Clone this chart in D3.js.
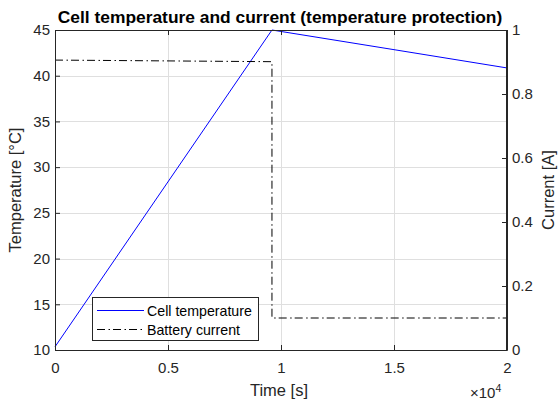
<!DOCTYPE html>
<html>
<head>
<meta charset="utf-8">
<script src="https://cdn.jsdelivr.net/npm/d3@7"></script>
<style>
  html, body { margin: 0; padding: 0; background: #fff; }
  svg { display: block; font-family: "Liberation Sans", Arial, sans-serif; }
</style>
</head>
<body>
<svg id="chart" width="560" height="405"></svg>
<script>
// ---- data ----
const tempTime = [0, 9600, 15000, 20000];
const tempValues = [10.35, 45, 42.85, 40.85];
const currentTime = [0, 9600, 9600, 20000];
const currentValues = [0.906, 0.901, 0.1, 0.1];
const xTicks = [0, 5000, 10000, 15000, 20000];
const xTickLabels = ["0", "0.5", "1", "1.5", "2"];
const yLeftTicks = [10, 15, 20, 25, 30, 35, 40, 45];
const yRightTicks = [0, 0.2, 0.4, 0.6, 0.8, 1];
const yRightTickLabels = ["0", "0.2", "0.4", "0.6", "0.8", "1"];
const legendLabels = ["Cell temperature", "Battery current"];
const titleText = "Cell temperature and current (temperature protection)";

const svg = d3.select("#chart");
const L = 55, R = 507, T = 30, B = 350;
const axisColor = "#262626";
const gridColor = "#dfdfdf";
const tickFont = "15px", labelFont = "16.5px", legendFont = "14.2px";

const x = d3.scaleLinear().domain([0, 20000]).range([L, R]);
const yL = d3.scaleLinear().domain([10, 45]).range([B, T]);
const yR = d3.scaleLinear().domain([0, 1]).range([B, T]);

// grid
const g = svg.append("g");
g.selectAll(".gx").data(xTicks.slice(1, -1)).enter().append("line")
  .attr("x1", d => Math.round(x(d)) + 0.5).attr("x2", d => Math.round(x(d)) + 0.5)
  .attr("y1", T).attr("y2", B).attr("stroke", gridColor).attr("stroke-width", 1);
g.selectAll(".gy").data(yLeftTicks.slice(1, -1)).enter().append("line")
  .attr("y1", d => Math.round(yL(d)) + 0.5).attr("y2", d => Math.round(yL(d)) + 0.5)
  .attr("x1", L).attr("x2", R).attr("stroke", gridColor).attr("stroke-width", 1);

// lines
const tempLine = d3.line().x((d, i) => x(tempTime[i])).y(d => yL(d));
svg.append("path").datum(tempValues).attr("d", tempLine)
  .attr("fill", "none").attr("stroke", "#0000ff").attr("stroke-width", 1);

const curLine = d3.line().x((d, i) => x(currentTime[i])).y(d => yR(d));
svg.append("path").datum(currentValues).attr("d", curLine)
  .attr("fill", "none").attr("stroke", "#000").attr("stroke-width", 1)
  .attr("stroke-dasharray", "8,3.5,1.5,3");

// axes
const tickLen = 5;
const axB = d3.axisBottom(x).tickValues(xTicks).tickFormat((d, i) => xTickLabels[i]).tickSizeInner(-tickLen).tickSizeOuter(0).tickPadding(12);
const axT = d3.axisTop(x).tickValues(xTicks).tickFormat("").tickSizeInner(-tickLen).tickSizeOuter(0);
const axL = d3.axisLeft(yL).tickValues(yLeftTicks).tickFormat(d3.format("d")).tickSizeInner(-tickLen).tickSizeOuter(0).tickPadding(5);
const axR = d3.axisRight(yR).tickValues(yRightTicks).tickFormat((d, i) => yRightTickLabels[i]).tickSizeInner(-tickLen).tickSizeOuter(0).tickPadding(5);

function style(sel) {
  sel.selectAll("path").attr("stroke", axisColor);
  sel.selectAll("line").attr("stroke", axisColor);
  sel.selectAll("text").attr("fill", axisColor).style("font-size", tickFont).style("font-family", "Liberation Sans, Arial, sans-serif");
}
style(svg.append("g").attr("transform", `translate(0,${B})`).call(axB));
style(svg.append("g").attr("transform", `translate(0,${T})`).call(axT));
style(svg.append("g").attr("transform", `translate(${L},0)`).call(axL));
style(svg.append("g").attr("transform", `translate(${R},0)`).call(axR));

// box
svg.append("rect").attr("x", L + 0.5).attr("y", T + 0.5).attr("width", R - L - 1).attr("height", B - T)
  .attr("fill", "none").attr("stroke", axisColor).attr("stroke-width", 1);

// title
svg.append("text").attr("x", 280).attr("y", 23).attr("text-anchor", "middle")
  .style("font-weight", "bold").style("font-size", "17.4px").attr("fill", "#000").text(titleText);

// axis labels
svg.append("text").attr("x", 279).attr("y", 396).attr("text-anchor", "middle")
  .style("font-size", labelFont).attr("fill", axisColor).text("Time [s]");
svg.append("text").attr("transform", `translate(21,${(T + B) / 2}) rotate(-90)`).attr("text-anchor", "middle")
  .style("font-size", labelFont).attr("fill", axisColor).text("Temperature [°C]");
svg.append("text").attr("transform", `translate(554,${(T + B) / 2}) rotate(-90)`).attr("text-anchor", "middle")
  .style("font-size", labelFont).attr("fill", axisColor).text("Current [A]");

// exponent
const ex = svg.append("text").attr("x", 470).attr("y", 398).attr("fill", axisColor).style("font-size", tickFont);
ex.append("tspan").text("×10");
ex.append("tspan").attr("dy", -6).style("font-size", "10.5px").text("4");

// legend
const lg = svg.append("g");
lg.append("rect").attr("x", 92.5).attr("y", 297.5).attr("width", 166).attr("height", 43)
  .attr("fill", "#fff").attr("stroke", axisColor).attr("stroke-width", 1);
const legStyles = [{ c: "#0000ff", d: null }, { c: "#000", d: "8,3.5,1.5,3" }];
legendLabels.forEach((lab, i) => {
  const yy = 310 + i * 19;
  lg.append("line").attr("x1", 97).attr("x2", 144).attr("y1", yy + 0.5).attr("y2", yy + 0.5)
    .attr("stroke", legStyles[i].c).attr("stroke-width", 1).attr("stroke-dasharray", legStyles[i].d);
  lg.append("text").attr("x", 147).attr("y", yy + 5.5).style("font-size", legendFont).attr("fill", "#000").text(lab);
});
</script>
</body>
</html>
